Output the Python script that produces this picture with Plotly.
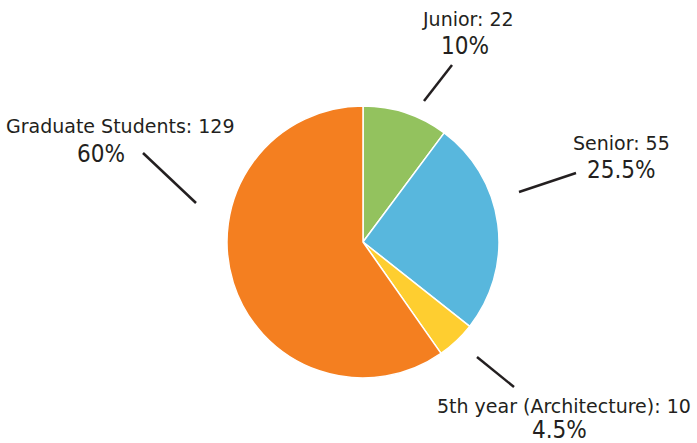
import plotly.graph_objects as go

W, H = 697, 443

categories = ["Junior", "Senior", "5th year (Architecture)", "Graduate Students"]
counts = [22, 55, 10, 129]
pct_labels = ["10%", "25.5%", "4.5%", "60%"]
colors = ["#93C25E", "#58B7DD", "#FECE30", "#F47F20"]

# layout helpers (pixel positions of label blocks and leader lines)
name_pos = [(468, 19), (621, 143), (564, 406), (120, 126)]
pct_pos = [(465, 46), (621, 170), (559, 430), (101, 154)]
leaders = [((424, 101), (452, 65)), ((519, 192), (576, 173)),
           ((477, 357), (514, 387)), ((196, 203), (143, 153))]

cx, cy, r = 363, 242, 136

def px(x):
    return x / W

def py(y):
    return 1 - y / H

fig = go.Figure(go.Pie(
    labels=categories, values=counts, sort=False, direction="clockwise",
    rotation=0, textinfo="none", hoverinfo="label+value+percent",
    marker=dict(colors=colors, line=dict(color="white", width=1.5)),
    domain=dict(x=[px(cx - r), px(cx + r)], y=[py(cy + r), py(cy - r)]),
    showlegend=False,
))

annotations = []
for cat, n, p, (nx, ny), (qx, qy) in zip(categories, counts, pct_labels, name_pos, pct_pos):
    annotations.append(dict(x=px(nx), y=py(ny), xref="paper", yref="paper",
                            text=f"{cat}: {n}", showarrow=False,
                            xanchor="center", yanchor="middle",
                            font=dict(family="DejaVu Sans", size=19, color="#231F20")))
    annotations.append(dict(x=px(qx), y=py(qy), xref="paper", yref="paper",
                            text=p, showarrow=False,
                            xanchor="center", yanchor="middle",
                            font=dict(family="DejaVu Sans Condensed", size=24, color="#231F20")))

shapes = []
for (x0, y0), (x1, y1) in leaders:
    shapes.append(dict(type="line", xref="paper", yref="paper",
                       x0=px(x0), y0=py(y0), x1=px(x1), y1=py(y1),
                       line=dict(color="#231F20", width=2.5)))

fig.update_layout(
    width=W, height=H, margin=dict(l=0, r=0, t=0, b=0),
    paper_bgcolor="white", plot_bgcolor="white",
    annotations=annotations, shapes=shapes,
)

fig.write_html("out.html", config={"displayModeBar": False},
               post_script="document.body.style.margin='0';document.body.style.overflow='hidden';")
